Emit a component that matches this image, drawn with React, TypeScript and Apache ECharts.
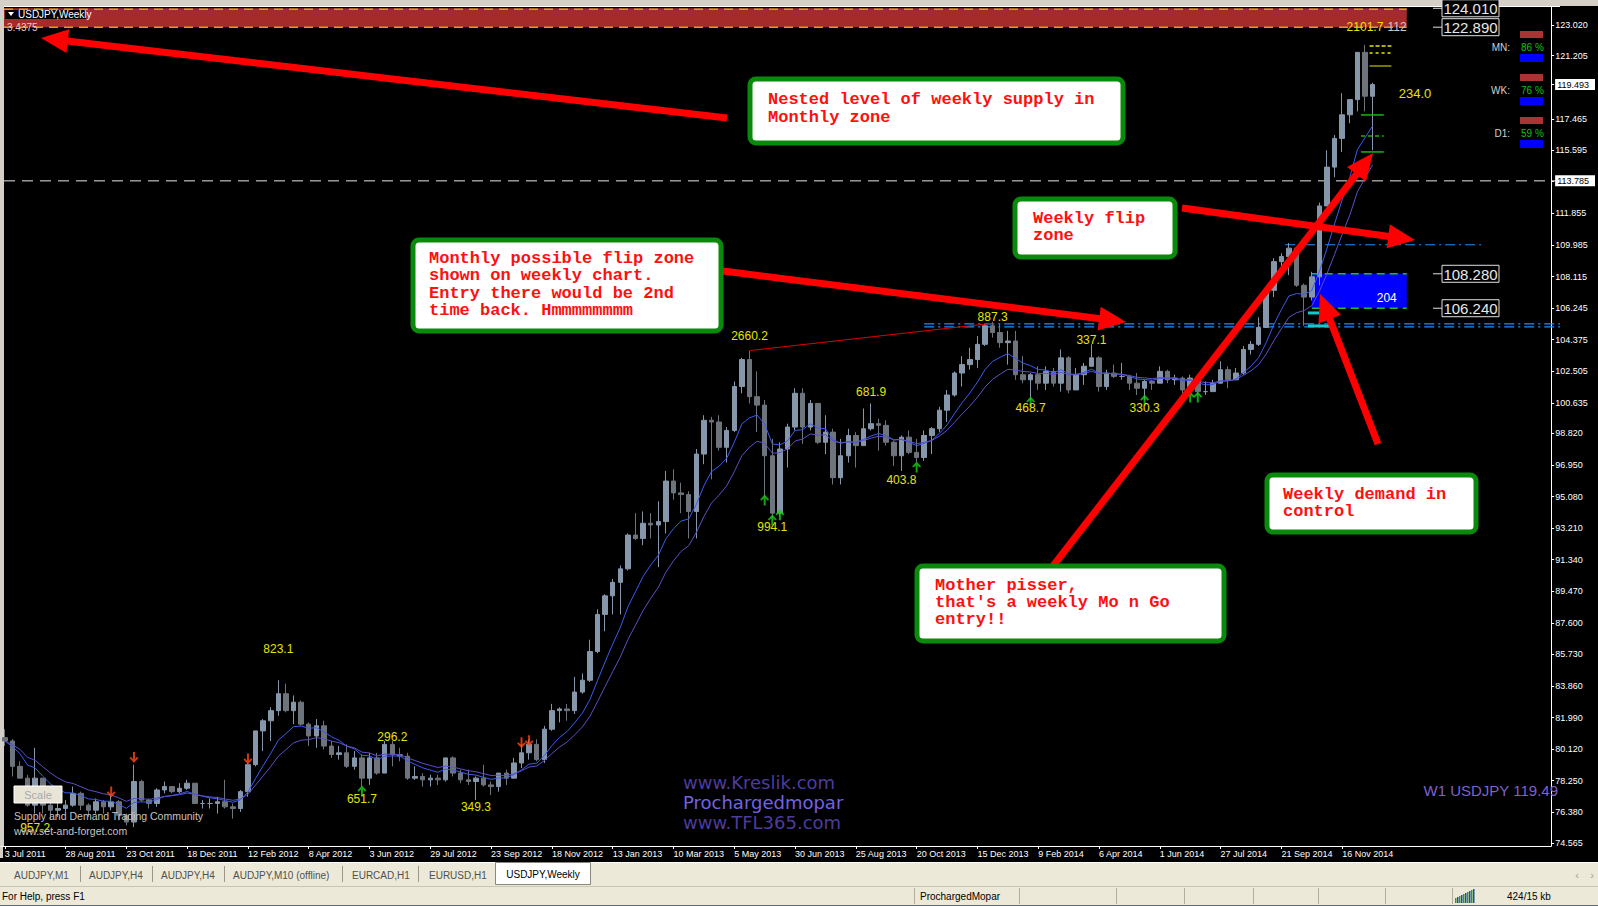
import React, { useEffect, useRef } from "react";
import * as echarts from "echarts";

// ---- weekly USDJPY candles, 3 Jul 2011 .. 14 Dec 2014 ----
const opens = [
  80.8,80.6,79.1,78.4,76.8,78.4,76.8,76.5,76.6,76.8,77.5,76.8,76.5,77.0,76.7,77.0,76.2,75.8,78.2,77.1,76.9,77.7,77.9,77.6,77.8,78.1,
  76.9,76.9,76.9,77.0,76.7,76.6,77.6,79.2,81.2,81.8,82.4,83.4,82.4,82.9,81.6,80.9,81.5,80.3,79.8,79.9,79.1,79.6,78.4,79.6,78.7,80.4,79.8,79.7,78.4,78.5,78.3,78.4,78.3,79.6,78.7,78.3,78.2,78.4,78.0,77.9,78.7,78.4,79.3,79.9,80.4,79.5,81.3,82.4,82.5,82.4,83.5,84.2,85.9,
  88.1,89.2,90.0,90.8,92.8,92.6,93.5,93.4,93.6,96.0,95.3,95.2,94.2,97.6,99.6,99.5,98.0,99.0,101.6,103.2,101.0,100.5,97.5,94.1,97.9,99.2,101.2,99.2,100.6,98.3,98.9,96.2,97.5,98.7,98.1,99.1,99.4,99.3,98.3,97.5,98.6,97.7,97.4,98.7,99.1,100.2,101.1,102.4,102.9,103.2,104.1,105.2,
  104.8,104.2,104.3,102.3,102.0,102.3,101.8,102.5,101.8,103.3,101.4,102.3,102.8,103.3,101.6,102.4,102.2,102.2,101.8,101.5,101.9,101.8,102.5,102.0,102.1,101.4,102.1,101.3,101.3,101.8,102.6,102.0,102.4,103.8,104.1,105.1,107.3,109.0,109.3,109.8,107.6,106.9,108.1,112.3,114.6,116.3,117.7,118.6,121.4,118.8
];
const highs = [
  81.3,80.7,79.4,78.6,80.2,78.4,77.1,77.3,77.1,77.9,77.6,76.9,77.2,77.1,77.4,77.1,76.3,79.2,78.3,77.2,77.8,78.2,77.9,78.1,78.3,78.1,
  77.1,77.2,77.3,78.3,76.9,77.7,79.3,81.2,81.9,82.6,84.2,84.0,83.3,83.0,81.7,81.9,81.8,80.6,80.3,80.4,80.0,79.8,79.9,79.9,80.6,80.6,80.2,79.9,79.1,78.7,78.6,78.6,79.6,79.7,78.9,78.9,78.5,79.2,78.2,78.7,78.9,79.6,80.4,80.7,80.7,81.5,82.8,82.6,82.8,84.4,84.6,86.6,88.4,
  89.3,90.2,91.0,92.9,94.1,94.2,94.1,94.8,96.6,96.7,95.9,95.4,97.9,99.9,99.8,99.9,99.2,101.9,103.3,103.7,102.5,100.8,98.5,98.3,99.4,101.5,101.5,100.8,100.6,99.9,99.1,98.5,99.1,98.9,100.3,100.6,99.7,99.6,98.4,98.7,99.0,98.5,99.0,99.2,100.4,101.4,102.5,103.4,103.9,104.6,105.3,105.44,
  105.3,104.9,104.9,103.4,102.4,102.8,102.8,102.7,103.8,103.4,102.7,103.0,104.1,103.4,102.6,102.9,103.0,102.3,102.4,102.0,102.0,102.8,102.6,102.3,102.2,102.3,102.1,101.9,102.0,103.1,102.8,102.7,104.0,104.3,105.7,107.4,109.2,109.5,110.1,109.9,107.7,108.4,112.5,115.6,116.5,118.98,118.6,121.4,121.85,119.6
];
const lows = [
  80.3,78.5,78.4,76.7,76.3,76.3,75.95,76.1,76.4,76.7,76.5,76.1,76.3,76.3,76.5,75.9,75.6,75.5,77.0,76.6,76.7,77.5,77.5,77.5,77.7,76.9,
  76.6,76.6,76.3,76.6,76.0,76.4,77.3,79.1,80.0,80.6,82.1,82.3,81.6,81.5,80.3,80.2,80.1,79.6,79.5,79.0,78.9,77.9,78.0,78.6,78.7,79.1,79.4,78.3,78.3,77.9,77.9,78.0,78.2,78.5,78.1,78.0,77.1,77.9,77.4,77.6,78.0,78.4,79.0,79.5,79.4,79.3,81.2,81.7,81.8,82.2,83.4,84.1,85.8,
  87.1,88.1,88.1,90.7,92.5,92.2,92.6,90.9,92.9,94.9,94.1,92.6,92.6,97.0,96.1,97.8,97.1,98.9,101.2,100.6,98.9,95.06,93.8,93.9,96.8,99.0,98.2,99.0,98.2,97.6,95.8,95.8,97.1,96.8,98.1,99.0,97.8,98.1,96.9,96.6,97.6,97.1,97.2,97.6,98.9,99.5,101.0,101.6,102.6,102.7,104.0,104.5,
  103.9,102.9,102.0,101.8,100.8,101.4,101.4,101.6,101.3,101.2,101.4,101.7,102.8,101.3,101.4,102.1,102.0,101.4,101.1,100.8,101.4,101.8,101.8,101.7,101.2,101.2,101.1,101.1,101.3,101.8,101.5,102.0,102.3,103.5,104.0,105.1,106.9,108.3,108.2,107.5,105.2,106.7,107.6,112.3,114.0,115.5,117.2,117.9,117.9,115.6
];
const closes = [
  80.6,79.1,78.4,76.8,78.4,76.8,76.5,76.6,76.8,77.5,76.8,76.5,77.0,76.7,77.0,76.2,75.8,78.2,77.1,76.9,77.7,77.9,77.6,77.8,78.1,76.9,
  76.9,76.9,77.0,76.7,76.6,77.6,79.2,81.2,81.8,82.4,83.4,82.4,82.9,81.6,80.9,81.5,80.3,79.8,79.9,79.1,79.6,78.4,79.6,78.7,80.4,79.8,79.7,78.4,78.5,78.3,78.4,78.3,79.6,78.7,78.3,78.2,78.4,78.0,77.9,78.7,78.4,79.3,79.9,80.4,79.5,81.3,82.4,82.5,82.4,83.5,84.2,85.9,88.1,
  89.2,90.0,90.8,92.8,92.6,93.5,93.4,93.6,96.0,95.3,95.2,94.2,97.6,99.6,99.5,98.0,99.0,101.6,103.2,101.0,100.5,97.5,94.1,97.9,99.2,101.2,99.2,100.6,98.3,98.9,96.2,97.5,98.7,98.1,99.1,99.4,99.3,98.3,97.5,98.6,97.7,97.4,98.7,99.1,100.2,101.1,102.4,102.9,103.2,104.1,105.2,104.8,
  104.2,104.3,102.3,102.0,102.3,101.8,102.5,101.8,103.3,101.4,102.3,102.8,103.3,101.6,102.4,102.2,102.2,101.8,101.5,101.9,101.8,102.5,102.0,102.1,101.4,102.1,101.3,101.3,101.8,102.6,102.0,102.4,103.8,104.1,105.1,107.3,109.0,109.3,109.8,107.6,106.9,108.1,112.3,114.6,116.3,117.7,118.6,121.4,118.8,119.49
];

const xTickLabels = [
  "3 Jul 2011","28 Aug 2011","23 Oct 2011","18 Dec 2011","12 Feb 2012","8 Apr 2012","3 Jun 2012","29 Jul 2012",
  "23 Sep 2012","18 Nov 2012","13 Jan 2013","10 Mar 2013","5 May 2013","30 Jun 2013","25 Aug 2013","20 Oct 2013",
  "15 Dec 2013","9 Feb 2014","6 Apr 2014","1 Jun 2014","27 Jul 2014","21 Sep 2014","16 Nov 2014"
];
const yTickValues = [
  123.02,121.205,119.493,117.465,115.595,113.785,111.855,109.985,108.115,106.245,104.375,102.505,100.635,
  98.82,96.95,95.08,93.21,91.34,89.47,87.6,85.73,83.86,81.99,80.12,78.25,76.38,74.565
];
const highlightedTicks = [119.493, 113.785];
const slotCount = 204;

// zones and levels (prices)
const supplyZone = [122.89, 124.01];
const demandZone = [106.24, 108.28];
const boxedLevels = [124.01, 122.89, 108.28, 106.24];
const whiteDashedLevel = [113.785];
const flipLevel = [110.0];
const doubleLevels = [105.31, 105.13];
const yellowLevels = [121.78, 121.36, 120.59];
const greenLevels = [117.69, 116.44, 115.5];
const cyanLevels = [105.96, 105.19];
const trendLine = [[98, 103.73], [130, 105.35]];

// indicator arrows [bar index, price]
const upArrows = [[47,77.64],[100,94.88],[101,93.7],[102,94.0],[120,96.84],[135,100.69],[150,100.8],[156,100.98],[157,100.98]];
const downArrows = [[14,77.58],[17,79.62],[32,79.54],[68,80.49],[69,80.61]];

// swing labels [text, bar index, price]
const swingLabels: [string, number, number][] = [
  ["823.1",36,86.05],["296.2",51,80.84],["651.7",47,77.17],["349.3",62,76.69],["957.2",4,75.45],
  ["2660.2",98,104.6],["681.9",114,101.28],["994.1",101,93.28],["403.8",118,96.07],
  ["887.3",130,105.72],["337.1",143,104.36],["468.7",135,100.33],["330.3",150,100.33],["2101.7",179,122.9]
];

const strength = [["MN:", "86 %"], ["WK:", "76 %"], ["D1:", "59 %"]];
const tabNames = ["AUDJPY,M1","AUDJPY,H4","AUDJPY,H4","AUDJPY,M10 (offline)","EURCAD,H1","EURUSD,H1"];

function ema(values: number[], period: number) {
  const k = 2 / (period + 1);
  const out: number[] = [];
  let prev = values[0];
  values.forEach((v, i) => {
    prev = i === 0 ? v : prev + k * (v - prev);
    out.push(+prev.toFixed(3));
  });
  return out;
}

const W = 1598, H = 906;
const SANS = '"Liberation Sans", Arial, sans-serif';
const MONO = '"Liberation Mono", "Courier New", monospace';
const BULL = "#8797ab", BEAR = "#6e747c";
const UP_PATH = "path://M4.5,0 L9,5 L7.6,6.2 L5.5,4 L5.5,11 L3.5,11 L3.5,4 L1.4,6.2 L0,5 Z";
const DOWN_PATH = "path://M4.5,11 L9,6 L7.6,4.8 L5.5,7 L5.5,0 L3.5,0 L3.5,7 L1.4,4.8 L0,6 Z";

function buildOption() {
  const cats = Array.from({ length: slotCount }, (_, i) => String(i));
  const showIdx = (i: number) => i % 8 === 0 && i / 8 < xTickLabels.length;
  return {
    animation: false,
    backgroundColor: "#000",
    grid: { left: 1, right: 38, top: 7, bottom: 60, containLabel: false },
    xAxis: {
      type: "category",
      data: cats,
      boundaryGap: true,
      axisLine: { show: true, lineStyle: { color: "#fff", width: 1 } },
      axisTick: { show: true, interval: showIdx, alignWithLabel: true, length: 3, lineStyle: { color: "#fff" } },
      axisLabel: {
        interval: showIdx,
        formatter: (_v: string, i: number) => xTickLabels[i / 8] ?? "",
        color: "#fff", fontSize: 9, fontFamily: SANS, align: "left", margin: 3
      },
      splitLine: { show: false }
    },
    yAxis: {
      type: "value",
      position: "right",
      min: 74.38,
      max: 124.086,
      axisLine: { show: true, lineStyle: { color: "#fff", width: 1 } },
      axisTick: { show: true, customValues: yTickValues, length: 3, lineStyle: { color: "#fff" } },
      axisLabel: {
        customValues: yTickValues,
        color: "#fff", fontSize: 9, fontFamily: SANS, margin: 4,
        formatter: (v: number) => {
          const s = v.toFixed(3);
          return highlightedTicks.some((h) => Math.abs(h - v) < 1e-6) ? `{hl|${s}}` : s;
        },
        rich: { hl: { backgroundColor: "#fff", color: "#000", fontSize: 9, fontFamily: SANS, padding: [1, 6, 1, 2] } }
      },
      splitLine: { show: false }
    },
    series: [
      {
        type: "candlestick",
        data: opens.map((o, i) => [o, closes[i], lows[i], highs[i]]),
        barWidth: 5,
        itemStyle: { color: BULL, color0: BEAR, borderColor: BULL, borderColor0: BEAR, borderWidth: 1 },
        z: 3
      },
      { type: "line", data: ema(closes, 8), showSymbol: false, symbol: "none", lineStyle: { color: "#3a5cf0", width: 1 }, z: 4 },
      { type: "line", data: ema(closes, 13), showSymbol: false, symbol: "none", lineStyle: { color: "#5d4fc6", width: 1 }, z: 4 },
      { type: "scatter", data: upArrows, symbol: UP_PATH, symbolSize: [9, 11], itemStyle: { color: "#18d018" }, z: 5 },
      { type: "scatter", data: downArrows, symbol: DOWN_PATH, symbolSize: [9, 11], itemStyle: { color: "#ff4a10" }, z: 5 }
    ]
  };
}

function buildGraphics(chart: any) {
  const X = (i: number) => chart.convertToPixel({ xAxisIndex: 0 }, i) as number;
  const Y = (v: number) => chart.convertToPixel({ yAxisIndex: 0 }, v) as number;
  const band = X(1) - X(0);
  const L = (i: number) => X(i) - band / 2;
  const R = (i: number) => X(i) + band / 2;
  const els: any[] = [];
  const line = (x1: number, y1: number, x2: number, y2: number, stroke: string, lineWidth = 1, lineDash?: number[], z = 1) =>
    els.push({ type: "line", silent: true, z, shape: { x1, y1, x2, y2 }, style: { stroke, lineWidth, lineDash } });
  const rect = (x: number, y: number, width: number, height: number, style: any, z = 1, r = 0) =>
    els.push({ type: "rect", silent: true, z, shape: { x, y, width, height, r }, style });
  const text = (x: number, y: number, t: string, fill: string, fontSize: number, align = "left", family = SANS, weight = "normal", z = 60, extra: any = {}) =>
    els.push({
      type: "text", silent: true, z, x, y,
      style: { text: t, fill, fontSize, fontFamily: family, fontWeight: weight, align, verticalAlign: "middle", textAlign: align, textVerticalAlign: "middle", ...extra }
    });

  // window frame
  rect(0, 0, W, 6, { fill: "#d4d0c8" }, 0);
  rect(0, 0, 3, 858, { fill: "#d4d0c8" }, 0);
  line(3, 6.5, 1560, 6.5, "#ffffff", 1, undefined, 2);
  line(3.5, 6, 3.5, 846, "#cfcfcf", 1, undefined, 2);

  // supply zone (red band)
  const sx1 = 4, sx2 = R(184);
  rect(sx1, Y(supplyZone[1]), sx2 - sx1, Y(supplyZone[0]) - Y(supplyZone[1]), { fill: "#a52b2b" }, 1);
  line(sx1, Y(supplyZone[1]) + 1, sx2, Y(supplyZone[1]) + 1, "#d4a017", 1.5, [9, 6], 2);
  line(sx1, Y(supplyZone[0]), sx2, Y(supplyZone[0]), "#d4a017", 1.5, [9, 6], 2);

  // demand zone (blue)
  const dx1 = X(172), dx2 = R(184);
  rect(dx1, Y(demandZone[1]), dx2 - dx1, Y(demandZone[0]) - Y(demandZone[1]), { fill: "#0000ff" }, 1);
  line(dx1, Y(demandZone[1]), dx2, Y(demandZone[1]), "#1fbf1f", 1.5, [8, 5], 2);
  line(dx1, Y(demandZone[0]), dx2, Y(demandZone[0]), "#1fbf1f", 1.5, [8, 5], 2);
  text(dx2 - 10, Y(demandZone[0]) - 10, "204", "#ffffff", 12, "right");
  cyanLevels.forEach((v) => line(L(172), Y(v), X(175), Y(v), "#14c8c8", 3, undefined, 6));

  // horizontal levels
  whiteDashedLevel.forEach((v) => line(4, Y(v), 1560, Y(v), "#e6e6e6", 1, [11, 7], 2));
  flipLevel.forEach((v) => line(L(169), Y(v), R(194), Y(v), "#1e90ff", 1, [10, 4, 2, 4], 2));
  doubleLevels.forEach((v) => line(X(121), Y(v), 1560, Y(v), "#1e90ff", 1.2, [10, 4, 2, 4], 2));
  line(X(trendLine[0][0]), Y(trendLine[0][1]), X(trendLine[1][0]), Y(trendLine[1][1]), "#e00000", 1, undefined, 6);
  yellowLevels.forEach((v, k) => line(X(180) - 3, Y(v), X(183) - 4, Y(v), "#e8e800", k === 2 ? 1 : 1.5, k === 2 ? undefined : k === 0 ? [4, 2] : [3, 3], 6));
  greenLevels.forEach((v, k) => line(X(179) - 4, Y(v), X(182) - 4, Y(v), "#12b812", 1.5, k === 1 ? [4, 3] : undefined, 6));

  // boxed price levels
  boxedLevels.forEach((v) => {
    const y = Y(v);
    line(1433, y, 1442, y, "#e0e0e0", 1, undefined, 70);
    rect(1442, y - 8.5, 57, 17, { fill: "#000", stroke: "#e0e0e0", lineWidth: 1 }, 70);
    text(1470.5, y + 0.5, v.toFixed(3), "#e8e8e8", 15, "center", SANS, "normal", 71);
  });

  // swing labels
  swingLabels.forEach(([t, i, v]) => text(X(i), Y(v), t, "#e4e400", 12, "center"));
  text(1397, 27, "112", "#c8c8c8", 12, "center");
  text(1415, 93, "234.0", "#e4e400", 13, "center");

  // strength panel
  strength.forEach(([lab, pct], k) => {
    const base = [31, 74, 117][k];
    rect(1520, base, 23, 7, { fill: "#a83434" }, 60);
    text(1510, base + 16, lab, "#d0d0d0", 10, "right");
    text(1521, base + 16, pct, "#10c010", 10, "left");
    rect(1520, base + 23, 23, 8, { fill: "#0000ff" }, 60);
  });

  // top-left label
  rect(5, 10, 81, 9, { fill: "#000" }, 60);
  els.push({ type: "polygon", silent: true, z: 61, shape: { points: [[8, 12], [14, 12], [11, 16]] }, style: { fill: "#fff" } });
  text(18, 14.5, "USDJPY,Weekly", "#ffffff", 10, "left", SANS, "normal", 61);
  text(7, 27, "3.4375", "#f2c6c6", 10, "left", SANS, "normal", 61);

  // watermark texts
  text(1558, 790, "W1 USDJPY 119.49", "#7d60d2", 15, "right");
  text(683, 782, "www.Kreslik.com", "#4c3c9e", 18, "left", '"DejaVu Sans", sans-serif');
  text(683, 802, "Prochargedmopar", "#7462e2", 18, "left", '"DejaVu Sans", sans-serif');
  text(683, 822, "www.TFL365.com", "#4c3c9e", 18, "left", '"DejaVu Sans", sans-serif');
  rect(14, 786, 48, 17, { fill: "#e8e4d6", stroke: "#ffffff", lineWidth: 1 }, 60);
  text(38, 795, "Scale", "#a8a8a8", 11, "center", SANS, "normal", 61);
  text(14, 816, "Supply and Demand Trading Community", "#c4c4c4", 10.5, "left");
  text(14, 831, "www.set-and-forget.com", "#c4c4c4", 10.5, "left");

  // red annotation arrows
  const arrow = (tx: number, ty: number, hx: number, hy: number) => {
    const dx = hx - tx, dy = hy - ty, len = Math.hypot(dx, dy);
    const ux = dx / len, uy = dy / len, AL = 27, AW = 12;
    const bx = hx - ux * AL, by = hy - uy * AL;
    els.push({ type: "line", silent: true, z: 90, shape: { x1: tx, y1: ty, x2: bx + ux * 3, y2: by + uy * 3 }, style: { stroke: "#ff0000", lineWidth: 7 } });
    els.push({ type: "polygon", silent: true, z: 90, shape: { points: [[hx, hy], [bx - uy * AW, by + ux * AW], [bx + uy * AW, by - ux * AW]] }, style: { fill: "#ff0000" } });
  };
  arrow(727, 118, 41, 38);
  arrow(715, 270, 1126, 322);
  arrow(1182, 208, 1415, 240);
  arrow(1053, 566, 1373, 153);
  arrow(1378, 444, 1320, 294);

  // annotation boxes
  const box = (x1: number, y1: number, x2: number, y2: number, lines: string[], tx: number, ty: number, lh: number) => {
    rect(x1, y1, x2 - x1, y2 - y1, { fill: "#ffffff", stroke: "#0a8a0a", lineWidth: 5 }, 95, 6);
    lines.forEach((t, k) => text(tx, ty + k * lh, t, "#ff1010", 17, "left", MONO, "bold", 96));
  };
  box(750, 79, 1123, 143, ["Nested level of weekly supply in", "Monthly zone"], 768, 99, 18);
  box(413, 240, 721, 331, ["Monthly possible flip zone", "shown on weekly chart.", "Entry there would be 2nd", "time back. Hmmmmmmmm"], 429, 258, 17.5);
  box(1015, 199, 1175, 257, ["Weekly flip", "zone"], 1033, 218, 17.5);
  box(1267, 475, 1476, 532, ["Weekly demand in", "control"], 1283, 494, 17.5);
  box(917, 566, 1224, 641, ["Mother pisser,", "that's a weekly Mo n Go", "entry!!"], 935, 585, 17);

  // tab bar
  rect(0, 862, W, 24, { fill: "#ece9d8" }, 80);
  line(0, 862.5, W, 862.5, "#ffffff", 1, undefined, 81);
  const tabX = [14, 89, 161, 233, 352, 429];
  tabNames.forEach((t, k) => text(tabX[k], 875, t, "#505050", 10, "left", SANS, "normal", 82));
  [80, 152, 224, 342, 418].forEach((x) => line(x + 0.5, 866, x + 0.5, 882, "#9a968a", 1, undefined, 82));
  rect(495.5, 862.5, 95, 22, { fill: "#ffffff", stroke: "#8a877c", lineWidth: 1 }, 82);
  text(543, 874, "USDJPY,Weekly", "#000000", 10, "center", SANS, "normal", 83);
  text(1577, 875, "\u2039", "#a0a0a0", 11, "center", SANS, "normal", 82);
  text(1592, 875, "\u203A", "#a0a0a0", 11, "center", SANS, "normal", 82);

  // status bar
  rect(0, 886, W, 20, { fill: "#ece9d8" }, 80);
  line(0, 886.5, W, 886.5, "#c9c5b5", 1, undefined, 81);
  line(0, 905.5, W, 905.5, "#3c6fb0", 1, undefined, 81);
  text(2, 896, "For Help, press F1", "#000000", 10, "left", SANS, "normal", 82);
  text(920, 896, "ProchargedMopar", "#000000", 10, "left", SANS, "normal", 82);
  [914, 1019, 1116, 1184, 1253, 1318, 1385, 1452].forEach((x) => line(x + 0.5, 888, x + 0.5, 904, "#b3ae9c", 1, undefined, 82));
  for (let k = 0; k < 10; k++) {
    const h = 5 + k;
    rect(1455 + k * 2, 903 - h, 1.5, h, { fill: k % 2 ? "#1b4fa8" : "#2b9a2b" }, 82);
  }
  text(1507, 896, "424/15 kb", "#000000", 10, "left", SANS, "normal", 82);

  return { elements: els };
}

export default function App() {
  const ref = useRef<HTMLDivElement>(null);
  useEffect(() => {
    document.body.style.margin = "0";
    document.body.style.background = "#000";
    const chart = echarts.init(ref.current as HTMLDivElement, null, { renderer: "svg", width: W, height: H });
    chart.setOption(buildOption() as any);
    chart.setOption({ graphic: buildGraphics(chart) } as any);
    return () => chart.dispose();
  }, []);
  return <div ref={ref} style={{ width: W, height: H }} />;
}
